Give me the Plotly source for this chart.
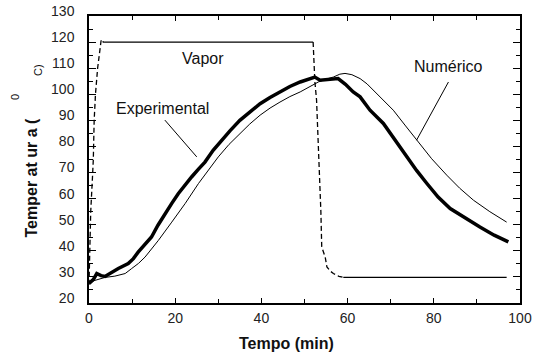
import plotly.graph_objects as go

# ---- data ----
exp_t = [0, 1.0, 1.8, 2.8, 3.7, 5.0, 6.8, 9.1, 10.3, 11.4, 13.0, 14.5, 16.0, 17.6, 19.2, 20.7,
         22.2, 23.8, 25.4, 26.9, 28.8, 30.4, 32.7, 35.0, 37.3, 39.7, 42.0, 44.3, 46.6, 49.0,
         51.0, 52.4, 53.6, 55.0, 56.7, 57.8, 59.5, 61.3, 62.9, 65.2, 68.3, 71.0, 73.7, 76.0,
         78.4, 81.0, 83.8, 87.0, 90.7, 94.0, 97.3]
exp_v = [27.5, 29.0, 31.3, 30.5, 30.2, 31.5, 33.2, 35.1, 37.0, 39.5, 42.3, 45.3, 49.8, 54.3, 58.2, 61.9,
         65.2, 68.3, 71.3, 74.0, 78.5, 81.7, 86.0, 90.0, 93.3, 96.4, 98.8, 100.9, 103.0, 104.7,
         105.9, 106.6, 105.4, 105.5, 105.6, 106.0, 103.8, 100.9, 99.0, 93.9, 88.8, 82.3, 76.0, 70.8,
         65.8, 60.6, 56.2, 52.8, 49.1, 46.0, 43.4]

num_t = [0, 2.0, 3.7, 6.0, 8.4, 9.9, 11.5, 13.0, 16.1, 19.2, 22.3, 25.4, 27.7, 30.0, 32.5, 35.0,
         37.3, 39.7, 42.0, 44.3, 46.6, 49.0, 51.0, 53.2, 55.0, 56.7, 58.2, 59.4, 61.0, 62.9,
         64.5, 66.0, 68.3, 70.6, 73.3, 76.0, 79.5, 83.0, 86.0, 89.2, 93.0, 96.9]
num_v = [28.0, 29.0, 29.8, 30.3, 31.3, 33.2, 35.2, 37.6, 44.0, 51.0, 58.1, 65.8, 71.0, 76.0, 80.8, 84.9,
         88.6, 92.0, 94.7, 97.0, 99.1, 100.9, 102.6, 104.7, 105.8, 106.6, 107.7, 108.0, 107.5, 106.0,
         104.0, 101.5, 97.8, 93.9, 88.2, 82.4, 75.3, 69.0, 64.0, 59.4, 55.0, 51.0]

# Vapor: dashed rise, solid plateau, dashed drop, solid tail
vap_rise_t = [0, 0.2, 0.4, 0.8, 1.0, 1.2, 1.5, 2.0, 2.5, 2.8, 3.1, 3.3, 3.7]
vap_rise_v = [27, 40, 55, 68, 75, 90, 100, 110, 117, 120.5, 121, 120, 120]
vap_hi_t = [3.7, 52.0]
vap_hi_v = [120, 120]
vap_drop_t = [52.0, 52.4, 52.8, 53.2, 53.6, 53.8, 54.0, 54.4, 54.8, 55.2, 56.0, 56.7, 58.0, 59.0]
vap_drop_v = [120, 105, 97.7, 82.4, 67, 55, 41.5, 39, 37.6, 33.8, 32.2, 31.3, 30.2, 29.8]
vap_lo_t = [59.0, 96.9]
vap_lo_v = [29.8, 29.8]

x_ticks = [0, 20, 40, 60, 80, 100]
y_ticks = [20, 30, 40, 50, 60, 70, 80, 90, 100, 110, 120, 130]

# label texts and leader lines (data coordinates)
labels = [("Vapor", 26.5, 113.8), ("Experimental", 17.1, 94.6), ("Numérico", 83.5, 110.5)]
leaders = [((17.6, 90.1), (25.0, 76.0)), ((83.4, 104.7), (76.0, 82.4))]

# ---- figure ----
W, H = 533, 358
L, R, T, B = 89, 13, 16, 55
PW, PH = W - L - R, H - T - B


def px(xp, yp):
    return (xp - L) / PW, (H - B - yp) / PH


fig = go.Figure()
blk = "black"
fig.add_trace(go.Scatter(x=vap_rise_t, y=vap_rise_v, mode="lines",
                         line=dict(color=blk, width=1.3, dash="5px,3px")))
fig.add_trace(go.Scatter(x=vap_hi_t, y=vap_hi_v, mode="lines", line=dict(color=blk, width=1.3)))
fig.add_trace(go.Scatter(x=vap_drop_t, y=vap_drop_v, mode="lines",
                         line=dict(color=blk, width=1.3, dash="5px,3px")))
fig.add_trace(go.Scatter(x=vap_lo_t, y=vap_lo_v, mode="lines", line=dict(color=blk, width=1.3)))
fig.add_trace(go.Scatter(x=num_t, y=num_v, mode="lines", line=dict(color=blk, width=1)))
fig.add_trace(go.Scatter(x=exp_t, y=exp_v, mode="lines", line=dict(color=blk, width=3.5)))

for (x0, y0), (x1, y1) in leaders:
    fig.add_shape(type="line", xref="x", yref="y", x0=x0, y0=y0, x1=x1, y1=y1,
                  line=dict(color=blk, width=1))

font_txt = "Arial, Liberation Sans, sans-serif"
for txt, xx, yy in labels:
    fig.add_annotation(x=xx, y=yy, xref="x", yref="y", text=txt, showarrow=False,
                       xanchor="center", yanchor="middle",
                       font=dict(family=font_txt, size=16, color="#111"))


def paper_text(xp, yp, text, size, angle=0):
    ax, ay = px(xp, yp)
    fig.add_annotation(x=ax, y=ay, xref="paper", yref="paper", text=text, textangle=angle,
                       showarrow=False, xanchor="center", yanchor="middle",
                       font=dict(family=font_txt, size=size, color="#111"))


# axis titles
paper_text(286.7, 343, "<b>Tempo (min)</b>", 16)
paper_text(31, 177.5, "<b>Temper at ur a (</b>", 16, -90)
paper_text(15, 97, "0", 11, -90)
paper_text(38, 70, "C)", 11, -90)

axis_common = dict(showgrid=False, zeroline=False, showline=True, linecolor=blk, linewidth=1.5,
                   mirror="ticks", ticks="inside", tickcolor=blk, tickwidth=1.2, automargin=False,
                   tickfont=dict(family=font_txt, size=14, color="#222"))
fig.update_xaxes(range=[0, 100], tickvals=x_ticks, ticklen=5, ticklabelstandoff=1,
                 minor=dict(dtick=10, ticklen=4, ticks="inside", tickcolor=blk), **axis_common)
fig.update_yaxes(range=[20, 130], tickvals=y_ticks, ticklen=7, ticklabelshift=-5,
                 ticklabelstandoff=10,
                 minor=dict(dtick=5, ticklen=4, ticks="inside", tickcolor=blk), **axis_common)

fig.update_layout(width=W, height=H, margin=dict(l=L, r=R, t=T, b=B, pad=0),
                  plot_bgcolor="white", paper_bgcolor="white", showlegend=False)

fig.write_html("out.html", config={"displayModeBar": False},
               post_script="document.body.style.margin='0';document.body.style.padding='0';")
